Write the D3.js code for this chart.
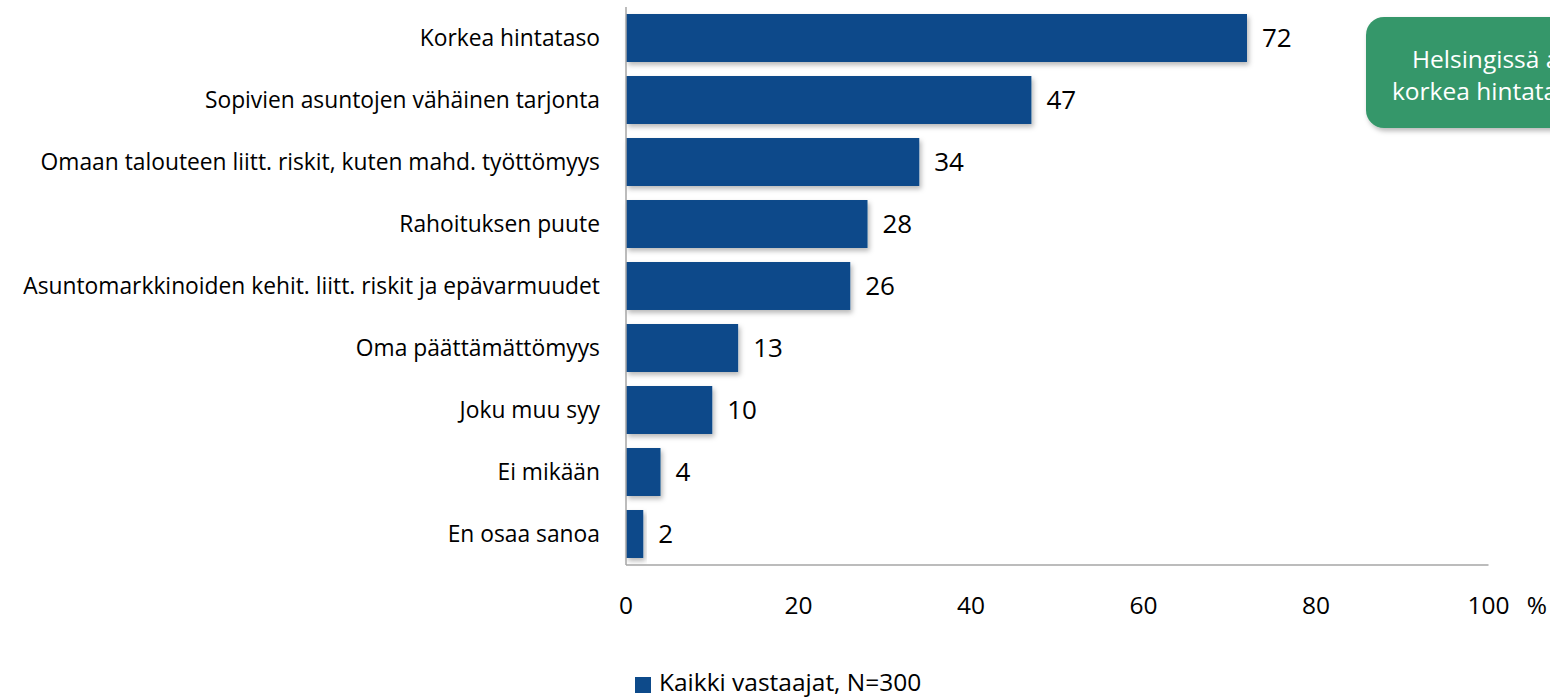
<!DOCTYPE html>
<html><head><meta charset="utf-8">
<script src="https://cdn.jsdelivr.net/npm/d3@7"></script>
<style>html,body{margin:0;padding:0;background:#fff;overflow:hidden}</style>
</head><body><svg id="c" width="1550" height="698"></svg>
<script>
const categories = ["Korkea hintataso","Sopivien asuntojen vähäinen tarjonta","Omaan talouteen liitt. riskit, kuten mahd. työttömyys","Rahoituksen puute","Asuntomarkkinoiden kehit. liitt. riskit ja epävarmuudet","Oma päättämättömyys","Joku muu syy","Ei mikään","En osaa sanoa"];
const values = [72,47,34,28,26,13,10,4,2];
const tickValues = [0,20,40,60,80,100];
const seriesName = "Kaikki vastaajat, N=300";
const calloutLines = ["Helsingissä asuntojen","korkea hintataso"];

const svg = d3.select("#c");
const font = "Open Sans, sans-serif";
const defs = svg.append("defs");
const f = defs.append("filter").attr("id","sh").attr("x","-10%").attr("y","-20%").attr("width","130%").attr("height","160%");
f.append("feDropShadow").attr("dx",2).attr("dy",3).attr("stdDeviation",2.5).attr("flood-color","#000").attr("flood-opacity",0.28);

const x = d3.scaleLinear().domain([0,100]).range([626,1488.5]);
const y = d3.scaleBand().domain(categories).range([7,565]).paddingInner(0.226).paddingOuter(0.113);

svg.append("g").selectAll("rect").data(values).join("rect")
  .attr("x",x(0)).attr("y",(d,i)=>y(categories[i]))
  .attr("width",d=>x(d)-x(0)).attr("height",y.bandwidth())
  .attr("fill","#0D4A8A").attr("filter","url(#sh)");

// axes lines
svg.append("line").attr("x1",x(0)).attr("x2",x(0)).attr("y1",7).attr("y2",565).attr("stroke","#a6a6a6").attr("stroke-width",1.5);
svg.append("line").attr("x1",x(0)).attr("x2",x(100)).attr("y1",565).attr("y2",565).attr("stroke","#a6a6a6").attr("stroke-width",1.5);

// category labels
svg.append("g").selectAll("text").data(categories).join("text")
  .attr("x",600).attr("y",d=>y(d)+y.bandwidth()/2).attr("dy","0.35em")
  .attr("text-anchor","end").attr("font-family",font).attr("font-size",22.8).attr("fill","#000")
  .text(d=>d);

// value labels
svg.append("g").selectAll("text").data(values).join("text")
  .attr("x",d=>x(d)+15).attr("y",(d,i)=>y(categories[i])+y.bandwidth()/2).attr("dy","0.35em")
  .attr("font-family",font).attr("font-size",26).attr("fill","#000")
  .text(d=>d);

// x ticks
svg.append("g").selectAll("text").data(tickValues).join("text")
  .attr("x",d=>x(d)).attr("y",605).attr("dy","0.35em").attr("text-anchor","middle")
  .attr("font-family",font).attr("font-size",24.5).attr("fill","#000").text(d=>d);
svg.append("text").attr("x",1537).attr("y",605).attr("dy","0.35em").attr("text-anchor","middle")
  .attr("font-family",font).attr("font-size",24.5).text("%");

// legend
svg.append("rect").attr("x",635).attr("y",677).attr("width",16).attr("height",16).attr("fill","#0D4A8A");
svg.append("text").attr("x",659).attr("y",682).attr("dy","0.35em").attr("font-family",font).attr("font-size",24.5).text(seriesName);

// callout
svg.append("rect").attr("x",1366).attr("y",17).attr("width",260).attr("height",111).attr("rx",18)
  .attr("fill","#35976A").attr("filter","url(#sh)");
svg.append("g").selectAll("text").data(calloutLines).join("text")
  .attr("x",(d,i)=>i===0?1412:1392).attr("y",(d,i)=>59+i*32).attr("dy","0.35em")
  .attr("font-family",font).attr("font-size",24.5).attr("fill","#fff").text(d=>d);
</script></body></html>
